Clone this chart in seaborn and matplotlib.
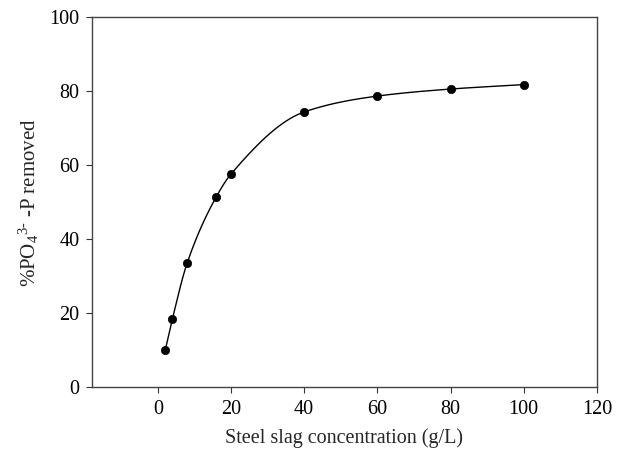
import numpy as np
import pandas as pd
import matplotlib
matplotlib.use("Agg")
import matplotlib.pyplot as plt
import seaborn as sns

# Data
concentration = [2, 4, 8, 16, 20, 40, 60, 80, 100]
removed = [9.9, 18.5, 33.5, 51.5, 57.6, 74.4, 78.7, 80.6, 81.8]
x_ticks = [0, 20, 40, 60, 80, 100, 120]
y_ticks = [0, 20, 40, 60, 80, 100]

sns.set_theme(style="ticks")
plt.rcParams['font.family'] = ['Liberation Serif', 'DejaVu Serif']
plt.rcParams['mathtext.fontset'] = 'custom'
plt.rcParams['mathtext.rm'] = 'Liberation Serif'
plt.rcParams['mathtext.it'] = 'Liberation Serif:italic'
plt.rcParams['mathtext.bf'] = 'Liberation Serif:bold'


def smooth_curve(x, y, n=40):
    """Monotone cubic Hermite (Fritsch-Carlson) through the data points."""
    x = np.asarray(x, float)
    y = np.asarray(y, float)
    h = np.diff(x)
    d = np.diff(y) / h
    m = np.zeros_like(y)
    m[0] = d[0]
    m[-1] = d[-1]
    for i in range(1, len(x) - 1):
        if d[i - 1] * d[i] <= 0:
            m[i] = 0
        else:
            w1 = 2 * h[i] + h[i - 1]
            w2 = h[i] + 2 * h[i - 1]
            m[i] = (w1 + w2) / (w1 / d[i - 1] + w2 / d[i])
    xs, ys = [], []
    for i in range(len(x) - 1):
        t = np.linspace(0, 1, n, endpoint=(i == len(x) - 2))
        h00 = 2 * t**3 - 3 * t**2 + 1
        h10 = t**3 - 2 * t**2 + t
        h01 = -2 * t**3 + 3 * t**2
        h11 = t**3 - t**2
        xs.append(x[i] + t * h[i])
        ys.append(h00 * y[i] + h10 * h[i] * m[i] + h01 * y[i + 1] + h11 * h[i] * m[i + 1])
    return np.concatenate(xs), np.concatenate(ys)


df = pd.DataFrame({"conc": concentration, "removed": removed})
cx, cy = smooth_curve(concentration, removed)
curve = pd.DataFrame({"conc": cx, "removed": cy})

fig = plt.figure(figsize=(6.37, 4.5), dpi=100)
ax = fig.add_axes([0.1444, 0.14, 0.7926, 0.8215])

sns.lineplot(data=curve, x="conc", y="removed", ax=ax, color="black",
             linewidth=1.0, sort=False, estimator=None)
sns.scatterplot(data=df, x="conc", y="removed", ax=ax, color="black",
                s=36, edgecolor="black", linewidth=0.5, zorder=3)

ax.set_xlim(-18, 120)
ax.set_ylim(0, 100)
ax.set_xticks(x_ticks)
ax.set_yticks(y_ticks)
ax.tick_params(direction="out", length=4, width=0.8, colors="#333333",
               labelcolor="black", labelsize=14.5, pad=5)
for s in ax.spines.values():
    s.set_color("#444444")
    s.set_linewidth(1.0)
    s.set_visible(True)

ax.set_xlabel("Steel slag concentration (g/L)", fontsize=14.5, labelpad=7)
ax.set_ylabel(r"%PO$_4$$^{3\text{-}}$ -P removed", fontsize=15, labelpad=6)

fig.savefig("out.png", dpi=100)
